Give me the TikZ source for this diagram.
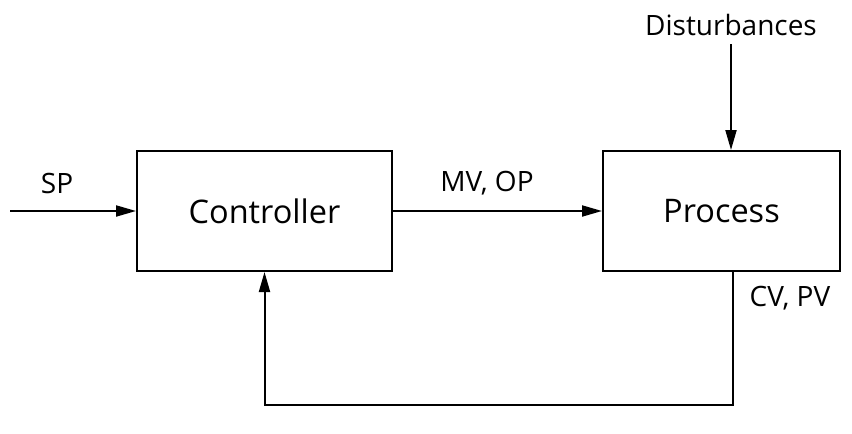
\documentclass[tikz,border=0pt]{standalone}
\usepackage{fontspec}
\setmainfont{Open Sans}
\usetikzlibrary{arrows.meta}

\begin{document}
\begin{tikzpicture}[x=1pt,y=-1pt,
	block/.style={shape=rectangle,draw=black,line width=2pt,minimum width=255pt,minimum height=120pt,font=\fontsize{32.5}{38}\selectfont},
	lbl/.style={font=\fontsize{28}{34}\selectfont},
	flow/.style={line width=2pt,-{Triangle[length=20pt,width=11pt]}}]
	
	\useasboundingbox (0,0) rectangle (852,434);
	
	\node[block] (ctrl) at (264.5,211) {Controller};
	\node[block,minimum width=237pt] (proc) at (721.5,211) {Process};
	
	\node[lbl] (sp) at (57,183) {SP};
	\node[lbl] (mv) at (487,183) {MV, OP};
	\node[lbl] (dist) at (731,25) {Disturbances};
	\node[lbl] (cv) at (790,298) {CV, PV};
	
	\coordinate (in) at (10,211);
	\coordinate (fb) at (733,405);
	
	\draw[flow] (in) -- (ctrl);
	\draw[flow] (ctrl) -- (proc);
	\draw[flow] ([yshift=-5pt]dist.south) -- (dist.south |- proc.north);
	\draw[flow] (proc.south -| fb) -- (fb) -| (ctrl.south);
	
\end{tikzpicture}
\end{document}
